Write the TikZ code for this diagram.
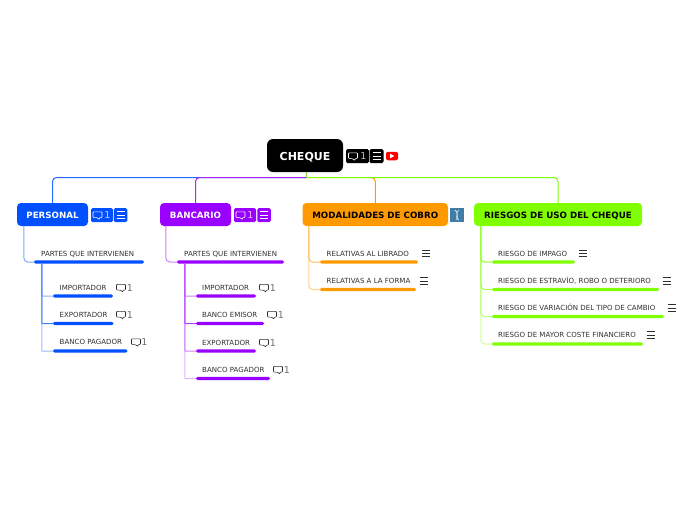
\documentclass[tikz,border=0pt]{standalone}
\usepackage{fontspec}
\setmainfont{DejaVu Sans}
\usetikzlibrary{positioning,calc}
\definecolor{perblue}{HTML}{0050FF}
\definecolor{banpurple}{HTML}{9900FF}
\definecolor{modorange}{HTML}{FF9900}
\definecolor{riegreen}{HTML}{80FF00}
\definecolor{stemolive}{HTML}{8CC63F}
\definecolor{dnablue}{HTML}{3F7CA6}
\definecolor{leafgray}{HTML}{303030}
\tikzset{
  % temas
  topic/.style={rectangle,rounded corners=4pt,inner sep=0pt,minimum height=23,
                text height=7.4,text depth=0,font=\fontsize{8.7}{10}\selectfont\bfseries},
  rootbox/.style={rectangle,rounded corners=6pt,fill=black,text=white,inner sep=0pt,
                  minimum width=76,minimum height=33,text height=9,text depth=0,
                  font=\fontsize{11}{13}\selectfont\bfseries},
  badge/.style={rectangle,rounded corners=1.5pt,inner sep=0pt,minimum height=14},
  % hojas
  leaf/.style={anchor=west,inner sep=0pt,text=leafgray,text height=5,text depth=0,
               font=\fontsize{7.05}{8}\selectfont},
  leafbar/.style={rectangle,rounded corners=1.5pt,inner sep=0pt,minimum height=3.4},
  conn/.style={line width=1pt,rounded corners=4pt},
  twig/.style={line width=1pt,rounded corners=4pt},
  trunk/.style={line width=1pt,rounded corners=.5pt},
  count/.style={inner sep=0pt,font=\fontsize{9.5}{11}\selectfont},
  pics/cmt/.style={code={
    \draw[#1,line width=.6pt,rounded corners=.8pt,line join=round]
      (-4.5,-3.2) -- (4.5,-3.2) -- (4.5,2.6) -- (1.8,2.6) -- (2.2,4.6) -- (-.6,2.6) -- (-4.5,2.6) -- cycle;
  }},
  pics/lst/.style={code={
    \draw[#1,line width=.75pt] (-4,-3.2) -- (4,-3.2) (-4,0) -- (4,0) (-4,3.2) -- (4,3.2);
  }},
}
\begin{document}
\begin{tikzpicture}[x=1pt,y=-1pt]
\useasboundingbox (0,0) rectangle (696,520);
  % raiz
  \node[rootbox] (root) at (305,155.5) {CHEQUE};
  \coordinate (hub) at (306.5,177.5);
  % temas
  \node[topic,fill=perblue,text=white,minimum width=71] (per) at (52.5,214.5) {PERSONAL};
  \node[topic,fill=banpurple,text=white,minimum width=71] (ban) at (195.5,214.5) {BANCARIO};
  \node[topic,fill=modorange,text=black,minimum width=145.5] (mod) at (375.25,214.5) {MODALIDADES DE COBRO};
  \node[topic,fill=riegreen,text=black,minimum width=168] (rie) at (558,214.5) {RIESGOS DE USO DEL CHEQUE};
  % ramas
  \draw[conn,perblue!85] (hub) -| (per.north);
  \draw[conn,banpurple!85] (hub) -| (ban.north);
  \draw[conn,modorange] (hub) -| (mod.north);
  \draw[conn,riegreen] (hub) -| (rie.north);
  \draw[line width=1pt,stemolive] (hub) -- (hub |- root.south);
  % iconos de la raiz
  \node[badge,fill=black,minimum width=23] (rootc) at (357.5,156) {};
  \pic at ($(rootc.center)+(-4.5,0)$) {cmt=white};
  \node[count,text=white!75!black] (rootn) at (363.5,156.5) {1};
  \node[badge,fill=black,minimum width=14] (rootl) at (376.5,156) {};
  \pic at (rootl.center) {lst=white};
  \node[rectangle,rounded corners=2pt,fill=red,inner sep=0pt,minimum width=12,minimum height=8.5] (yt) at (392,156) {};
  \fill[white] (390.2,153.8) -- (394.4,156) -- (390.2,158.2) -- cycle;
  % personal
  \node[badge,fill=perblue,minimum width=22] (perc) at (102,215) {};
  \pic at ($(perc.center)+(-4.5,0)$) {cmt=white};
  \node[count,text=white!75!perblue] (pern) at (107.5,215.5) {1};
  \node[badge,fill=perblue,minimum width=13.5] (perl) at (120.5,215) {};
  \pic at (perl.center) {lst=white};
  \node[leafbar,fill=perblue,minimum width=110] (p0) at (89,262) {};
  \node[leaf] (p0t) at (41,253.5) {PARTES QUE INTERVIENEN};
  \node[leafbar,fill=perblue,minimum width=60] (p1) at (83,296) {};
  \node[leaf] (p1t) at (59.5,287.5) {IMPORTADOR};
  \node[leafbar,fill=perblue,minimum width=60.5] (p2) at (83.25,323.5) {};
  \node[leaf] (p2t) at (59.5,314.5) {EXPORTADOR};
  \node[leafbar,fill=perblue,minimum width=74.5] (p3) at (90.25,351) {};
  \node[leaf] (p3t) at (59.5,341.5) {BANCO PAGADOR};
  \draw[twig,perblue!50] (per.south west) ++(7,0) |- (p0.west);
  \draw[trunk,perblue!40] (p0.south west) ++(8,0) |- (p3.west);
  \draw[trunk,perblue!45] (p0.south west) ++(8,0) |- (p1.west);
  \draw[trunk,perblue!75] (p0.south west) ++(8,0) |- (p2.west);
  \pic at (121,287.5) {cmt=leafgray};
  \node[count,text=leafgray!70] (p1n) at (130,288) {1};
  \pic at (121,314.5) {cmt=leafgray};
  \node[count,text=leafgray!70] (p2n) at (130,315) {1};
  \pic at (136,342) {cmt=leafgray};
  \node[count,text=leafgray!70] (p3n) at (144.5,342.5) {1};
  % bancario
  \node[badge,fill=banpurple,minimum width=22] (banc) at (245,215) {};
  \pic at ($(banc.center)+(-4.5,0)$) {cmt=white};
  \node[count,text=white!75!banpurple] (bann) at (250.5,215.5) {1};
  \node[badge,fill=banpurple,minimum width=13.5] (banl) at (264,215) {};
  \pic at (banl.center) {lst=white};
  \node[leafbar,fill=banpurple,minimum width=107] (b0) at (230.5,262) {};
  \node[leaf] (b0t) at (184,253.5) {PARTES QUE INTERVIENEN};
  \node[leafbar,fill=banpurple,minimum width=60] (b1) at (226,296) {};
  \node[leaf] (b1t) at (202,287.5) {IMPORTADOR};
  \node[leafbar,fill=banpurple,minimum width=68] (b2) at (230,323.5) {};
  \node[leaf] (b2t) at (202,314.5) {BANCO EMISOR};
  \node[leafbar,fill=banpurple,minimum width=60] (b3) at (226,351) {};
  \node[leaf] (b3t) at (202,342.5) {EXPORTADOR};
  \node[leafbar,fill=banpurple,minimum width=74] (b4) at (233,378.5) {};
  \node[leaf] (b4t) at (202,369.5) {BANCO PAGADOR};
  \draw[twig,banpurple!50] (ban.south west) ++(6,0) |- (b0.west);
  \draw[trunk,banpurple!30] (b0.south west) ++(8,0) |- (b4.west);
  \draw[trunk,banpurple!50] (b0.south west) ++(8,0) |- (b3.west);
  \draw[trunk,banpurple!50] (b0.south west) ++(8,0) |- (b1.west);
  \draw[trunk,banpurple!75] (b0.south west) ++(8,0) |- (b2.west);
  \pic at (264,287.5) {cmt=leafgray};
  \node[count,text=leafgray!70] (b1n) at (273,288) {1};
  \pic at (272,314.5) {cmt=leafgray};
  \node[count,text=leafgray!70] (b2n) at (281,315) {1};
  \pic at (264,342.5) {cmt=leafgray};
  \node[count,text=leafgray!70] (b3n) at (273,343) {1};
  \pic at (278,369.5) {cmt=leafgray};
  \node[count,text=leafgray!70] (b4n) at (287,370) {1};
  % modalidades
  \node[rectangle,fill=dnablue,inner sep=0pt,minimum width=14,minimum height=14] (dna) at (457,215) {};
  \draw[white,line width=.7pt] (455,210) .. controls (460,213) and (454,216) .. (458.5,220);
  \draw[white!70!dnablue,line width=.7pt] (459,210) .. controls (454,213) and (460,216) .. (456,220);
  \node[leafbar,fill=modorange,minimum width=98] (m1) at (369,262) {};
  \node[leaf] (m1t) at (326.5,253.5) {RELATIVAS AL LIBRADO};
  \node[leafbar,fill=modorange,minimum width=96] (m2) at (368,289.5) {};
  \node[leaf] (m2t) at (326.5,281) {RELATIVAS A LA FORMA};
  \draw[twig,modorange!45] (mod.south west) ++(6.5,0) |- (m2.west);
  \draw[twig,modorange!65] (mod.south west) ++(6.5,0) |- (m1.west);
  \pic at (425.5,253.5) {lst=leafgray};
  \pic at (423.5,281) {lst=leafgray};
  % riesgos
  \node[leafbar,fill=riegreen,minimum width=83] (r1) at (533.5,262) {};
  \node[leaf] (r1t) at (498,253.5) {RIESGO DE IMPAGO};
  \node[leafbar,fill=riegreen,minimum width=167] (r2) at (575.5,289.5) {};
  \node[leaf] (r2t) at (498,281) {RIESGO DE ESTRAVÍO, ROBO O DETERIORO};
  \node[leafbar,fill=riegreen,minimum width=172] (r3) at (578,316.5) {};
  \node[leaf] (r3t) at (498,308) {RIESGO DE VARIACIÓN DEL TIPO DE CAMBIO};
  \node[leafbar,fill=riegreen,minimum width=151] (r4) at (567.5,344) {};
  \node[leaf] (r4t) at (498,335) {RIESGO DE MAYOR COSTE FINANCIERO};
  \draw[twig,riegreen!40] (rie.south west) ++(7,0) |- (r4.west);
  \draw[twig,riegreen!55] (rie.south west) ++(7,0) |- (r3.west);
  \draw[twig,riegreen!70] (rie.south west) ++(7,0) |- (r2.west);
  \draw[twig,riegreen!85] (rie.south west) ++(7,0) |- (r1.west);
  \pic at (582.5,253.5) {lst=leafgray};
  \pic at (666.5,281) {lst=leafgray};
  \pic at (671.5,308) {lst=leafgray};
  \pic at (650.5,335) {lst=leafgray};
\end{tikzpicture}
\end{document}
